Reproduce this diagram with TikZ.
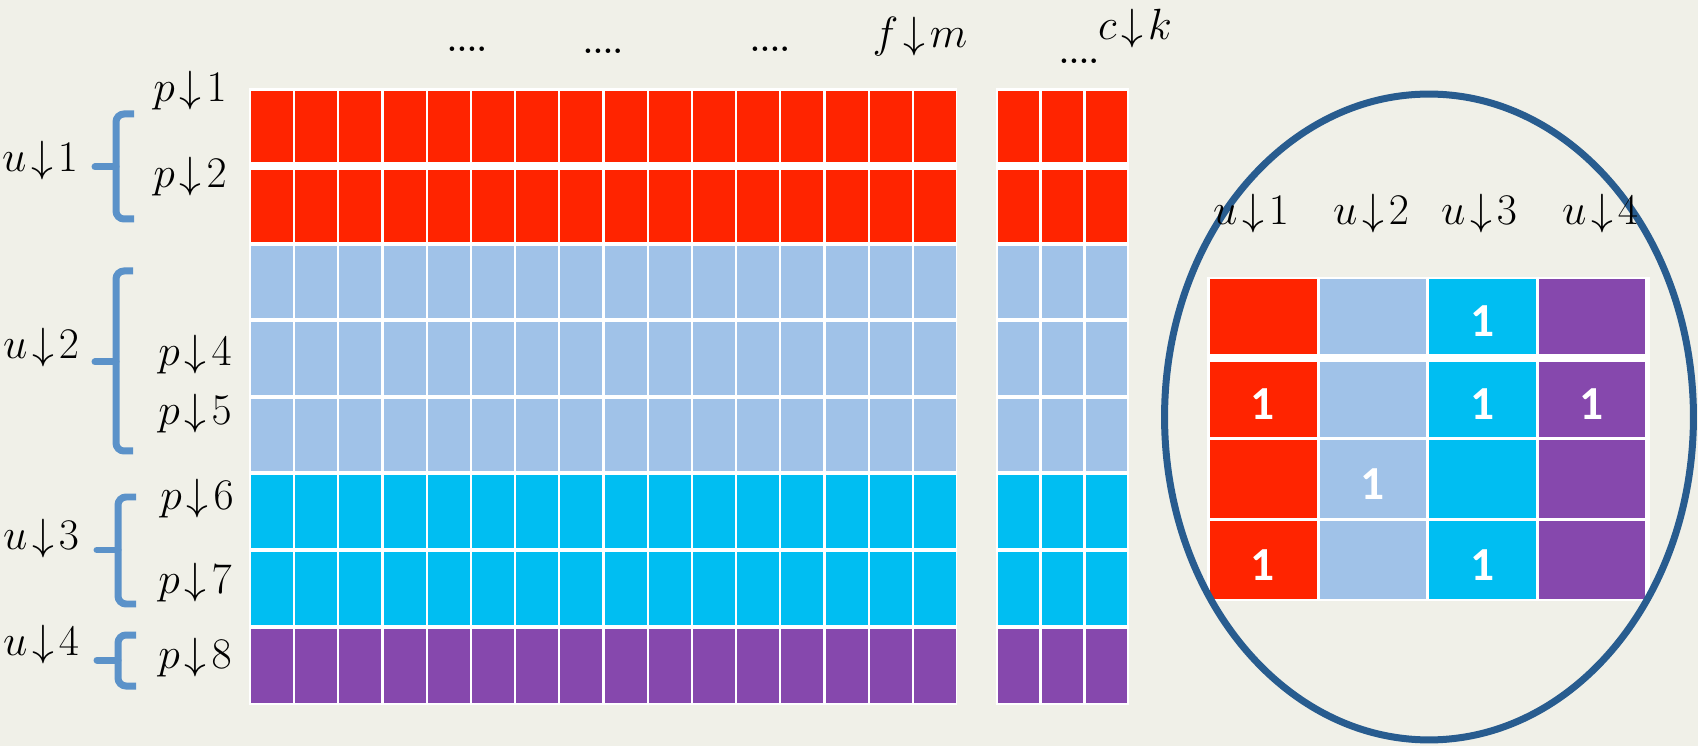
\documentclass[tikz,border=0pt]{standalone}
\usepackage{fontspec}
\newfontfamily\carlito{Carlito}
\definecolor{bgc}{RGB}{240,240,232}
\definecolor{cred}{RGB}{255,36,0}
\definecolor{clblue}{RGB}{160,194,232}
\definecolor{ccyan}{RGB}{0,190,242}
\definecolor{cpurple}{RGB}{134,72,173}
\definecolor{cbrace}{RGB}{91,146,201}
\definecolor{cellipse}{RGB}{40,92,143}
\tikzset{
  lab/.style={anchor=base, inner sep=0pt, font=\fontsize{24}{28}\selectfont},
  dots/.style={anchor=base, inner sep=0pt, font=\bfseries\fontsize{18}{22}\selectfont},
  one/.style={anchor=center, inner sep=0pt, text=white, font=\carlito\bfseries\fontsize{27}{30}\selectfont},
  bracepath/.style={draw=cbrace, line width=0.14cm, rounded corners=0.16cm},
  bracetip/.style={draw=cbrace, line width=0.14cm, line cap=round},
}
\newcommand{\lbl}[2]{$#1\mkern2mu{\downarrow}\mkern2mu#2$}
\begin{document}
\begin{tikzpicture}[x=0.02cm,y=-0.02cm]
\useasboundingbox (0,0) rectangle (1698,746);
\fill[bgc] (0,0) rectangle (1698,746);
% white backgrounds of the matrix
\fill[white] (249,88) rectangle (957,705);
\fill[white] (996,88) rectangle (1129,705);
% cells
\foreach \ya/\yb/\c in {91/162/cred, 170/242/cred, 246/318/clblue, 322/395/clblue, 399/471/clblue, 475/548/ccyan, 552/625/ccyan, 629/703/cpurple} {
  \foreach \i in {0,...,15} {
    \fill[\c] ({251+44.2*\i},\ya) rectangle ({293+44.2*\i},\yb);
  }
  \foreach \i in {0,1,2} {
    \fill[\c] ({998+44*\i},\ya) rectangle ({1039+44*\i},\yb);
  }
}
% braces
\draw[bracepath] (134,114) -- (116,114) -- (116,219) -- (134,219);
\draw[bracetip] (116,167) -- (95,167);
\draw[bracepath] (133,271) -- (116,271) -- (116,451) -- (133,451);
\draw[bracetip] (116,362) -- (95,362);
\draw[bracepath] (136,497) -- (118,497) -- (118,604) -- (136,604);
\draw[bracetip] (118,550) -- (97,550);
\draw[bracepath] (136,635) -- (118,635) -- (118,686) -- (136,686);
\draw[bracetip] (118,660) -- (97,660);
% left labels
\node[lab] (u1) at (40,172) {\lbl{u}{1}};
\node[lab] (u2) at (41,359) {\lbl{u}{2}};
\node[lab] (u3) at (41,549) {\lbl{u}{3}};
\node[lab] (u4) at (41,655) {\lbl{u}{4}};
\node[lab] (p1) at (190,102) {\lbl{p}{1}};
\node[lab] (p2) at (190,188) {\lbl{p}{2}};
\node[lab] (p4) at (195,366) {\lbl{p}{4}};
\node[lab] (p5) at (195,425) {\lbl{p}{5}};
\node[lab] (p6) at (197,510) {\lbl{p}{6}};
\node[lab] (p7) at (195,593) {\lbl{p}{7}};
\node[lab] (p8) at (195,668) {\lbl{p}{8}};
% top labels
\node[dots] (d1) at (467,52) {....};
\node[dots] (d2) at (603,54) {....};
\node[dots] (d3) at (770,52) {....};
\node[lab] (fm) at (920,48) {\lbl{f}{m}};
\node[dots] (d4) at (1079,64) {....};
\node[lab] (ck) at (1135,40) {\lbl{c}{k}};
% small table
\fill[white] (1207,277) rectangle (1650,601);
\foreach \ya/\yb [count=\r] in {279/354, 362/437, 440/518, 521/599} {
  \foreach \c [count=\k from 0] in {cred, clblue, ccyan, cpurple} {
    \fill[\c] ({1210+109.6*\k},\ya) rectangle ({1316.5+109.6*\k},\yb);
  }
}
\foreach \r/\k/\yc in {1/2/321, 2/0/404, 2/2/404, 2/3/404, 3/1/484, 4/0/565, 4/2/565} {
  \node[one] (one-\r-\k) at ({1263+109.6*\k},\yc) {1};
}
% ellipse
\draw[cellipse, line width=0.14cm] (1429,417) ellipse [x radius=5.29cm, y radius=6.46cm];
% small table labels
\node[lab] (su1) at (1251,225) {\lbl{u}{1}};
\node[lab] (su2) at (1371,225) {\lbl{u}{2}};
\node[lab] (su3) at (1479,225) {\lbl{u}{3}};
\node[lab] (su4) at (1600,225) {\lbl{u}{4}};
\end{tikzpicture}
\end{document}
